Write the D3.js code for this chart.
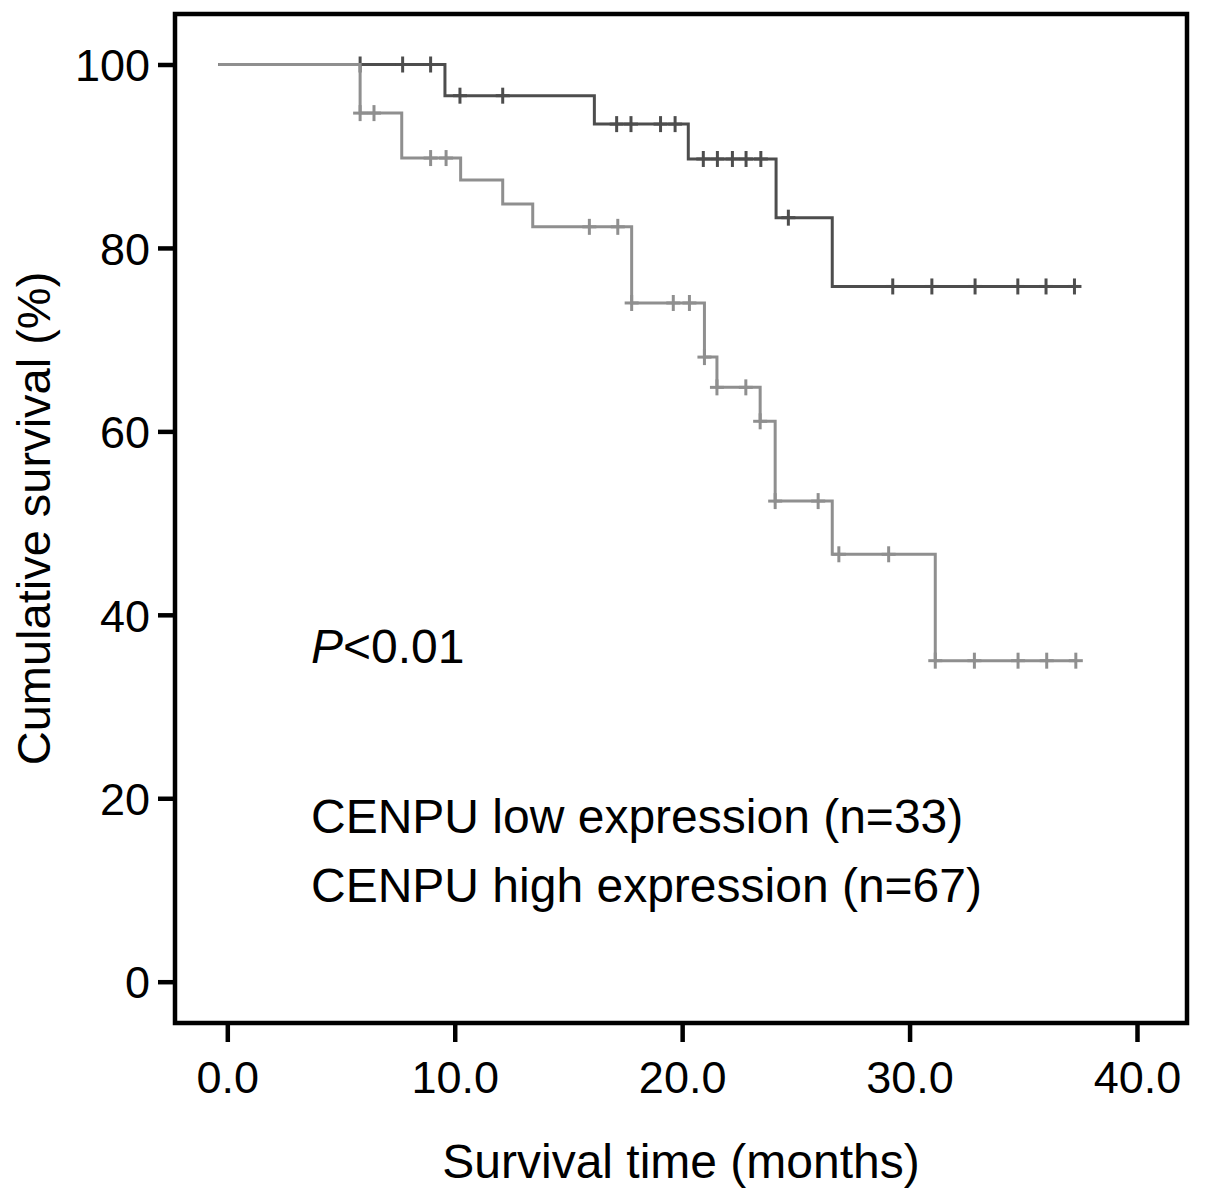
<!DOCTYPE html>
<html>
<head>
<meta charset="utf-8">
<script src="https://cdn.jsdelivr.net/npm/d3@7"></script>
<style>
  html, body { margin: 0; padding: 0; background: #fff; }
  svg { display: block; font-family: "Liberation Sans", Arial, sans-serif; }
</style>
</head>
<body>
<svg id="chart" width="1205" height="1202"></svg>
<script>
// ---- Data ----
const xTicks = [0, 10, 20, 30, 40];
const yTicks = [0, 20, 40, 60, 80, 100];

// CENPU low expression (n=33): step times (months) and survival (%)
const lowTimes = [-0.4, 9.57, 16.14, 20.27, 24.13, 26.6];
const lowSurv  = [100, 96.6, 93.5, 89.7, 83.3, 75.8];
const lowCensor = [5.84, 7.71, 8.94, 10.23, 12.11, 17.12, 17.75, 19.05, 19.69, 20.93,
                   21.55, 22.21, 22.81, 23.46, 24.67, 29.26, 30.98, 32.88, 34.76, 36.0, 37.25];

// CENPU high expression (n=67)
const highTimes = [-0.4, 5.84, 7.67, 10.26, 12.11, 13.43, 17.78, 20.98, 21.53, 23.43, 24.09, 26.6, 31.13];
const highSurv  = [100, 94.7, 89.8, 87.4, 84.8, 82.3, 74.0, 68.1, 64.8, 61.1, 52.4, 46.6, 35.0];
const highCensor = [5.84, 6.45, 8.94, 9.62, 15.92, 17.17, 17.78, 19.61, 20.32, 20.98, 21.53,
                    22.8, 23.43, 24.09, 25.98, 26.89, 29.08, 31.13, 32.85, 34.77, 36.03, 37.31];

const groups = [
  {name: "low",  times: lowTimes,  surv: lowSurv,  censor: lowCensor,  color: "#4d4d4d"},
  {name: "high", times: highTimes, surv: highSurv, censor: highCensor, color: "#8f8f8f"}
];

const legendLabels = ["CENPU low expression (n=33)", "CENPU high expression (n=67)"];

// ---- Layout ----
const svg = d3.select("#chart");
const frame = {left: 175, top: 14, right: 1187, bottom: 1023};

const x = d3.scaleLinear().domain([0, 40]).range([227.3, 1137]);
const y = d3.scaleLinear().domain([0, 100]).range([981.7, 64.5]);

// Frame
svg.append("rect")
  .attr("x", frame.left).attr("y", frame.top)
  .attr("width", frame.right - frame.left)
  .attr("height", frame.bottom - frame.top)
  .attr("fill", "none").attr("stroke", "#000").attr("stroke-width", 4.5);

// Y axis
const yAxis = svg.append("g")
  .attr("transform", `translate(${frame.left},0)`)
  .call(d3.axisLeft(y).tickValues(yTicks).tickFormat(d3.format("d"))
        .tickSize(17).tickSizeOuter(0).tickPadding(8));
yAxis.select(".domain").remove();
yAxis.selectAll(".tick line").attr("stroke", "#000").attr("stroke-width", 4.5);
yAxis.selectAll(".tick text")
  .attr("fill", "#000").attr("font-size", 45).attr("dy", "0.36em")
  .style("font-family", '"Liberation Sans", Arial, sans-serif');

// X axis
const xAxis = svg.append("g")
  .attr("transform", `translate(0,${frame.bottom})`)
  .call(d3.axisBottom(x).tickValues(xTicks).tickFormat(d3.format(".1f"))
        .tickSize(19).tickSizeOuter(0).tickPadding(19));
xAxis.select(".domain").remove();
xAxis.selectAll(".tick line").attr("stroke", "#000").attr("stroke-width", 4.5);
xAxis.selectAll(".tick text")
  .attr("fill", "#000").attr("font-size", 45)
  .style("font-family", '"Liberation Sans", Arial, sans-serif');

// Curves
function levelAt(g, t) {
  let v = g.surv[0];
  for (let i = 0; i < g.times.length; i++) if (g.times[i] <= t + 1e-9) v = g.surv[i];
  return v;
}

const line = d3.line().x(d => x(d[0])).y(d => y(d[1])).curve(d3.curveStepAfter);

groups.forEach(g => {
  const endT = d3.max(g.censor);
  const pts = g.times.map((t, i) => [t, g.surv[i]]);
  pts.push([endT, g.surv[g.surv.length - 1]]);
  const gg = svg.append("g").attr("class", "curve-" + g.name);
  gg.append("path").datum(pts)
    .attr("d", line)
    .attr("fill", "none").attr("stroke", g.color).attr("stroke-width", 3);
  const marks = gg.selectAll("g.cens").data(g.censor).join("g")
    .attr("class", "cens")
    .attr("transform", t => `translate(${x(t)},${y(levelAt(g, t))})`);
  marks.append("line").attr("x1", 0).attr("x2", 0).attr("y1", -8).attr("y2", 8)
    .attr("stroke", g.color).attr("stroke-width", 3);
  marks.append("line").attr("x1", -7).attr("x2", 7).attr("y1", 0).attr("y2", 0)
    .attr("stroke", g.color).attr("stroke-width", 3);
});

// P value
const ptext = svg.append("text").attr("x", 311).attr("y", 663)
  .attr("font-size", 48).attr("fill", "#000");
ptext.append("tspan").attr("font-style", "italic").text("P");
ptext.append("tspan").text("<0.01");

// Legend text
svg.selectAll("text.legend").data(legendLabels).join("text")
  .attr("class", "legend")
  .attr("x", 311)
  .attr("y", (d, i) => 833 + i * 69)
  .attr("font-size", 48).attr("fill", "#000")
  .text(d => d);

// Axis titles
svg.append("text")
  .attr("x", (frame.left + frame.right) / 2).attr("y", 1178)
  .attr("text-anchor", "middle").attr("font-size", 48).attr("fill", "#000")
  .text("Survival time (months)");

svg.append("text")
  .attr("transform", `translate(50,${(frame.top + frame.bottom) / 2}) rotate(-90)`)
  .attr("text-anchor", "middle").attr("font-size", 47).attr("fill", "#000")
  .text("Cumulative survival (%)");
</script>
</body>
</html>
